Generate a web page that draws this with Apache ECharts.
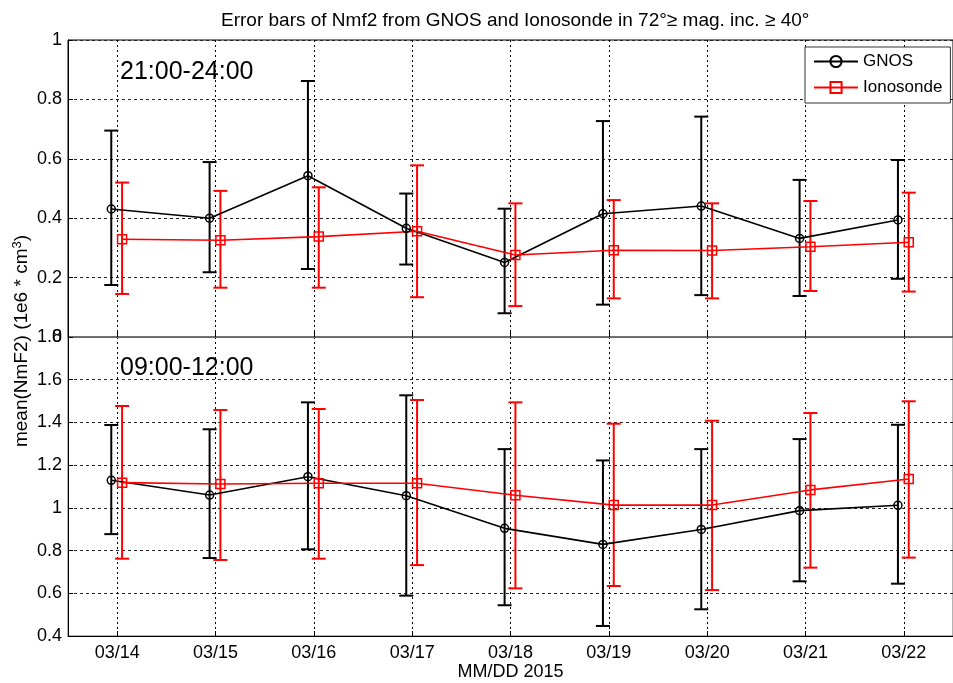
<!DOCTYPE html>
<html><head><meta charset="utf-8">
<script src="https://cdn.jsdelivr.net/npm/echarts@6/dist/echarts.min.js"></script>
<style>html,body{margin:0;padding:0;background:#fff}#c{width:953px;height:683px}</style>
</head><body><div id="c"></div>
<script>
// ---- data ----
const dates = ['03/14','03/15','03/16','03/17','03/18','03/19','03/20','03/21','03/22'];
const dayNums = [14,15,16,17,18,19,20,21,22];
const gnosOffset = -0.06;   // horizontal dodge (days)
const ionoOffset = 0.05;

// Top panel: 21:00-24:00
const nightGnosMean = [0.431,0.400,0.543,0.366,0.251,0.415,0.441,0.332,0.394];
const nightGnosLow  = [0.175,0.218,0.229,0.244,0.080,0.109,0.141,0.138,0.196];
const nightGnosHigh = [0.695,0.589,0.862,0.483,0.432,0.727,0.742,0.529,0.596];
const nightIonoMean = [0.329,0.326,0.338,0.356,0.276,0.292,0.291,0.304,0.319];
const nightIonoLow  = [0.145,0.166,0.166,0.134,0.104,0.130,0.130,0.155,0.153];
const nightIonoHigh = [0.520,0.492,0.504,0.578,0.450,0.461,0.450,0.458,0.486];

// Bottom panel: 09:00-12:00
const dayGnosMean = [1.129,1.060,1.146,1.057,0.904,0.829,0.899,0.987,1.012];
const dayGnosLow  = [0.877,0.765,0.806,0.589,0.544,0.447,0.525,0.656,0.645];
const dayGnosHigh = [1.388,1.368,1.494,1.527,1.275,1.222,1.275,1.322,1.389];
const dayIonoMean = [1.118,1.112,1.115,1.115,1.059,1.013,1.013,1.084,1.135];
const dayIonoLow  = [0.762,0.756,0.762,0.732,0.623,0.634,0.615,0.720,0.767];
const dayIonoHigh = [1.477,1.458,1.463,1.505,1.494,1.394,1.408,1.444,1.499];

// ---- build ----
const FONT = 'Liberation Sans, Arial, sans-serif';
const chart = echarts.init(document.getElementById('c'), null, {renderer:'canvas'});

function pts(mean, off){ return dayNums.map((d,i)=>[d+off, mean[i]]); }
function bars(lo, hi, off){ return dayNums.map((d,i)=>[d+off, lo[i], hi[i]]); }
function errRender(color){
  return function(params, api){
    const x = api.value(0), lo = api.value(1), hi = api.value(2);
    const a = api.coord([x, hi]), b = api.coord([x, lo]);
    const w = 7, st = {stroke: color, lineWidth: 2};
    return {type:'group', children:[
      {type:'line', shape:{x1:a[0],y1:a[1],x2:b[0],y2:b[1]}, style:st},
      {type:'line', shape:{x1:a[0]-w,y1:a[1],x2:a[0]+w,y2:a[1]}, style:st},
      {type:'line', shape:{x1:b[0]-w,y1:b[1],x2:b[0]+w,y2:b[1]}, style:st}
    ]};
  };
}
function errSeries(name, lo, hi, off, color, gi){
  return {type:'custom', name:name+'_err', xAxisIndex:gi, yAxisIndex:gi,
    renderItem: errRender(color), encode:{x:0, y:[1,2]},
    data: bars(lo, hi, off), z:2, silent:true};
}
function lineSeries(name, mean, off, color, symbol, size, gi){
  return {type:'line', name:name, xAxisIndex:gi, yAxisIndex:gi,
    data: pts(mean, off), symbol: symbol, symbolSize: size, showSymbol:true,
    lineStyle:{color:color, width:1.6},
    itemStyle:{color:'rgba(0,0,0,0)', borderColor:color, borderWidth:1.5},
    z:3, silent:true};
}
function xAx(gi, showLabels){
  return {type:'value', gridIndex:gi, min:13.5, max:22.5,
    axisLine:{show:true, lineStyle:{color: gi===0 ? '#666' : '#000', width:1}},
    axisTick:{show:true, inside:true, length:5, customValues: dayNums, lineStyle:{color:'#000'}},
    axisLabel:{show:showLabels, customValues: dayNums, color:'#000', fontSize:18, fontFamily:FONT, margin:8,
      formatter: v => dates[dayNums.indexOf(Math.round(v))] || ''},
    splitLine:{show:true, lineStyle:{color:'#000', type:[2,3], width:1}},
    name: showLabels ? 'MM/DD 2015' : '', nameLocation:'middle', nameGap:27,
    nameTextStyle:{color:'#000', fontSize:18, fontFamily:FONT}};
}
function yAx(gi, mn, mx){
  return {type:'value', gridIndex:gi, min:mn, max:mx, interval:0.2,
    axisLine:{show:true, lineStyle:{color:'#000', width:1}},
    axisTick:{show:true, inside:true, length:5, lineStyle:{color:'#000'}},
    axisLabel:{color:'#000', fontSize:18, fontFamily:FONT, margin:6},
    splitLine:{show:true, lineStyle:{color:'#222', type:[3,3], width:1}}};
}

const option = {
  animation:false,
  backgroundColor:'#fff',
  title:{text:'Error bars of Nmf2 from GNOS and Ionosonde in 72°≥ mag. inc. ≥ 40°',
    left:216, top:6, textStyle:{color:'#000', fontSize:19, fontWeight:'normal', fontFamily:FONT}},
  grid:[
    {left:68, top:40, width:896, height:297, show:true, borderColor:'#000', borderWidth:1, backgroundColor:'transparent'},
    {left:68, top:337, width:896, height:299, show:true, borderColor:'#666', borderWidth:1, backgroundColor:'transparent'}
  ],
  xAxis:[xAx(0,false), xAx(1,true)],
  yAxis:[yAx(0,0,1), yAx(1,0.4,1.8)],
  legend:{data:['GNOS','Ionosonde'], orient:'vertical', left:805, top:47,
    itemWidth:44, itemHeight:14, itemGap:9, padding:[6,8,7,8],
    backgroundColor:'#fff', borderColor:'#333', borderWidth:1, borderRadius:0,
    textStyle:{color:'#000', fontSize:17, fontFamily:FONT}},
  graphic:[
    {type:'text', left:120, top:60, style:{text:'21:00-24:00', fontSize:25, fill:'#000', fontFamily:FONT}},
    {type:'text', left:120, top:356, style:{text:'09:00-12:00', fontSize:25, fill:'#000', fontFamily:FONT}},
    {type:'text', x:22, y:341, rotation:Math.PI/2,
      style:{text:'mean(NmF2) (1e6 * cm{sup|3})', align:'center', verticalAlign:'middle',
        fontSize:19, fill:'#000', fontFamily:FONT,
        rich:{sup:{fontSize:13, verticalAlign:'top', padding:[0,0,9,0], fontFamily:FONT, fill:'#000'}}}}
  ],
  series:[
    errSeries('GNOS', nightGnosLow, nightGnosHigh, gnosOffset, '#000', 0),
    errSeries('Ionosonde', nightIonoLow, nightIonoHigh, ionoOffset, '#f00', 0),
    lineSeries('GNOS', nightGnosMean, gnosOffset, '#000', 'circle', 8, 0),
    lineSeries('Ionosonde', nightIonoMean, ionoOffset, '#f00', 'rect', 9, 0),
    errSeries('GNOS', dayGnosLow, dayGnosHigh, gnosOffset, '#000', 1),
    errSeries('Ionosonde', dayIonoLow, dayIonoHigh, ionoOffset, '#f00', 1),
    lineSeries('GNOS', dayGnosMean, gnosOffset, '#000', 'circle', 8, 1),
    lineSeries('Ionosonde', dayIonoMean, ionoOffset, '#f00', 'rect', 9, 1)
  ]
};
chart.setOption(option);
</script>
</body></html>
